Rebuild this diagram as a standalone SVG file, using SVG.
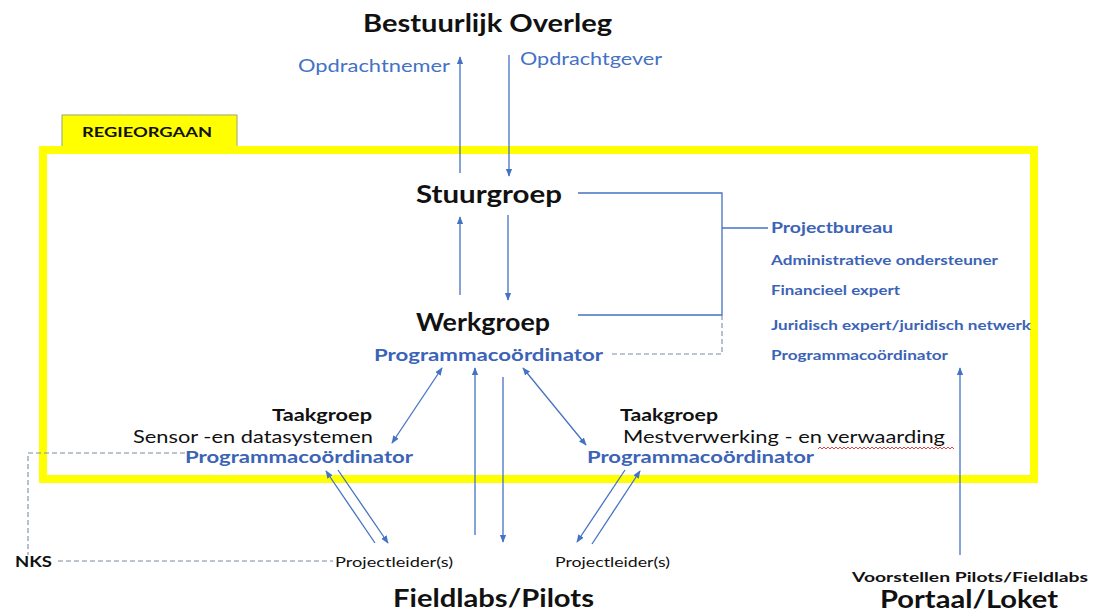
<svg xmlns="http://www.w3.org/2000/svg" width="1095" height="612" viewBox="0 0 1095 612">
  <style>
    text { font-family: Lato, "Open Sans", "Liberation Sans", sans-serif; }
    .title { font-weight: bold; font-size: 25px; fill: #111; }
    .blue { fill: #4472C4; }
    .bb { fill: #3B63B6; font-weight: bold; }
    .blk { fill: #111; }
    .ln { stroke: #4472C4; stroke-width: 1.3; fill: none; }
    .dash { stroke: #7C8CA8; stroke-width: 1.1; fill: none; stroke-dasharray: 5 3; }
  </style>
  <defs>
    <marker id="ah" viewBox="0 0 10 10" refX="9" refY="5" markerWidth="8" markerHeight="8" markerUnits="userSpaceOnUse" orient="auto-start-reverse">
      <path d="M0,1 L10,5 L0,9 z" fill="#4472C4"/>
    </marker>
  </defs>
  <rect width="1095" height="612" fill="#fff"/>

  <g id="regieorgaan">
    <rect x="62" y="115" width="175" height="33" fill="#FFFF00" stroke="#9AA86A" stroke-width="1"/>
    <rect x="43" y="150" width="991" height="329" fill="none" stroke="#FFFF00" stroke-width="8"/>
    <text x="82" y="137" class="blk" font-weight="bold" font-size="14" textLength="130" lengthAdjust="spacingAndGlyphs">REGIEORGAAN</text>
  </g>

  <g id="connectors">
    <line class="ln" x1="460" y1="173" x2="460" y2="57" marker-end="url(#ah)"/>
    <line class="ln" x1="509" y1="55" x2="509" y2="176" marker-end="url(#ah)"/>
    <line class="ln" x1="460" y1="295" x2="460" y2="217" marker-end="url(#ah)"/>
    <line class="ln" x1="508" y1="215" x2="508" y2="300" marker-end="url(#ah)"/>
    <line class="ln" x1="392" y1="443" x2="442" y2="368" marker-start="url(#ah)" marker-end="url(#ah)"/>
    <line class="ln" x1="475" y1="535" x2="475" y2="368" marker-end="url(#ah)"/>
    <line class="ln" x1="503" y1="377" x2="503" y2="542" marker-end="url(#ah)"/>
    <line class="ln" x1="523" y1="368" x2="586" y2="445" marker-start="url(#ah)" marker-end="url(#ah)"/>
    <line class="ln" x1="375" y1="543" x2="326" y2="471" marker-end="url(#ah)"/>
    <line class="ln" x1="338" y1="470" x2="388" y2="543" marker-end="url(#ah)"/>
    <line class="ln" x1="625" y1="470" x2="577" y2="542" marker-end="url(#ah)"/>
    <line class="ln" x1="592" y1="544" x2="640" y2="471" marker-end="url(#ah)"/>
    <line class="ln" x1="960" y1="555" x2="960" y2="368" marker-end="url(#ah)"/>
    <polyline class="ln" points="578,193 722,193 722,315 578,315"/>
    <line class="ln" x1="722" y1="228" x2="768" y2="228"/>
    <polyline class="dash" points="722,315 722,354 612,354"/>
    <polyline class="dash" points="185,453 28,453 28,555"/>
    <line class="dash" x1="58" y1="561" x2="333" y2="561"/>
  </g>

  <g id="bestuurlijk-overleg">
    <text x="363" y="32" class="title" textLength="249" lengthAdjust="spacingAndGlyphs">Bestuurlijk Overleg</text>
    <text x="298" y="72" class="blue" font-size="18" textLength="152" lengthAdjust="spacingAndGlyphs">Opdrachtnemer</text>
    <text x="520" y="65" class="blue" font-size="18" textLength="142" lengthAdjust="spacingAndGlyphs">Opdrachtgever</text>
  </g>

  <g id="stuurgroep">
    <text x="416" y="203" class="title" textLength="146" lengthAdjust="spacingAndGlyphs">Stuurgroep</text>
  </g>

  <g id="werkgroep">
    <text x="416" y="331" class="title" textLength="134" lengthAdjust="spacingAndGlyphs">Werkgroep</text>
    <text x="374" y="361" class="bb" font-size="17" textLength="229" lengthAdjust="spacingAndGlyphs">Programmacoördinator</text>
  </g>

  <g id="projectbureau">
    <text x="771" y="233" class="bb" font-size="15" textLength="122" lengthAdjust="spacingAndGlyphs">Projectbureau</text>
    <text x="771" y="265" class="bb" font-size="13.5" textLength="227" lengthAdjust="spacingAndGlyphs">Administratieve ondersteuner</text>
    <text x="771" y="295" class="bb" font-size="13.5" textLength="129" lengthAdjust="spacingAndGlyphs">Financieel expert</text>
    <text x="771" y="330" class="bb" font-size="13.5" textLength="260" lengthAdjust="spacingAndGlyphs">Juridisch expert/juridisch netwerk</text>
    <text x="771" y="360" class="bb" font-size="13.5" textLength="177" lengthAdjust="spacingAndGlyphs">Programmacoördinator</text>
  </g>

  <g id="taakgroep-sensor">
    <text x="272" y="421" class="blk" font-weight="bold" font-size="17" textLength="100" lengthAdjust="spacingAndGlyphs">Taakgroep</text>
    <text x="133" y="443" class="blk" font-size="18" textLength="240" lengthAdjust="spacingAndGlyphs">Sensor -en datasystemen</text>
    <text x="185" y="463" class="bb" font-size="17" textLength="228" lengthAdjust="spacingAndGlyphs">Programmacoördinator</text>
  </g>

  <g id="taakgroep-mest">
    <text x="620" y="421" class="blk" font-weight="bold" font-size="17" textLength="98" lengthAdjust="spacingAndGlyphs">Taakgroep</text>
    <text x="623" y="443" class="blk" font-size="18" textLength="322" lengthAdjust="spacingAndGlyphs">Mestverwerking - en verwaarding</text>
    <path d="M818,449 l2,-2 l2,2 l2,-2 l2,2 l2,-2 l2,2 l2,-2 l2,2 l2,-2 l2,2 l2,-2 l2,2 l2,-2 l2,2 l2,-2 l2,2 l2,-2 l2,2 l2,-2 l2,2 l2,-2 l2,2 l2,-2 l2,2 l2,-2 l2,2 l2,-2 l2,2 l2,-2 l2,2 l2,-2 l2,2 l2,-2 l2,2 l2,-2 l2,2 l2,-2 l2,2 l2,-2 l2,2 l2,-2 l2,2 l2,-2 l2,2 l2,-2 l2,2 l2,-2 l2,2 l2,-2 l2,2 l2,-2 l2,2 l2,-2 l2,2 l2,-2 l2,2 l2,-2 l2,2 l2,-2 l2,2 l2,-2 l2,2 l2,-2 l2,2 l2,-2 l2,2 l2,-2 l2,2" fill="none" stroke="#E03030" stroke-width="0.9"/>
    <text x="587" y="463" class="bb" font-size="17" textLength="227" lengthAdjust="spacingAndGlyphs">Programmacoördinator</text>
  </g>

  <g id="nks">
    <text x="15" y="567" class="blk" font-weight="bold" font-size="16" textLength="37" lengthAdjust="spacingAndGlyphs">NKS</text>
  </g>

  <g id="projectleiders-left">
    <text x="335" y="567" class="blk" font-size="14" textLength="118" lengthAdjust="spacingAndGlyphs">Projectleider(s)</text>
  </g>

  <g id="projectleiders-right">
    <text x="555" y="567" class="blk" font-size="14" textLength="115" lengthAdjust="spacingAndGlyphs">Projectleider(s)</text>
  </g>

  <g id="fieldlabs">
    <text x="393" y="607" class="title" textLength="201" lengthAdjust="spacingAndGlyphs">Fieldlabs/Pilots</text>
  </g>

  <g id="portaal">
    <text x="852" y="582" class="blk" font-weight="bold" font-size="14" textLength="236" lengthAdjust="spacingAndGlyphs">Voorstellen Pilots/Fieldlabs</text>
    <text x="880" y="608" class="title" font-size="24" textLength="178" lengthAdjust="spacingAndGlyphs">Portaal/Loket</text>
  </g>
</svg>
